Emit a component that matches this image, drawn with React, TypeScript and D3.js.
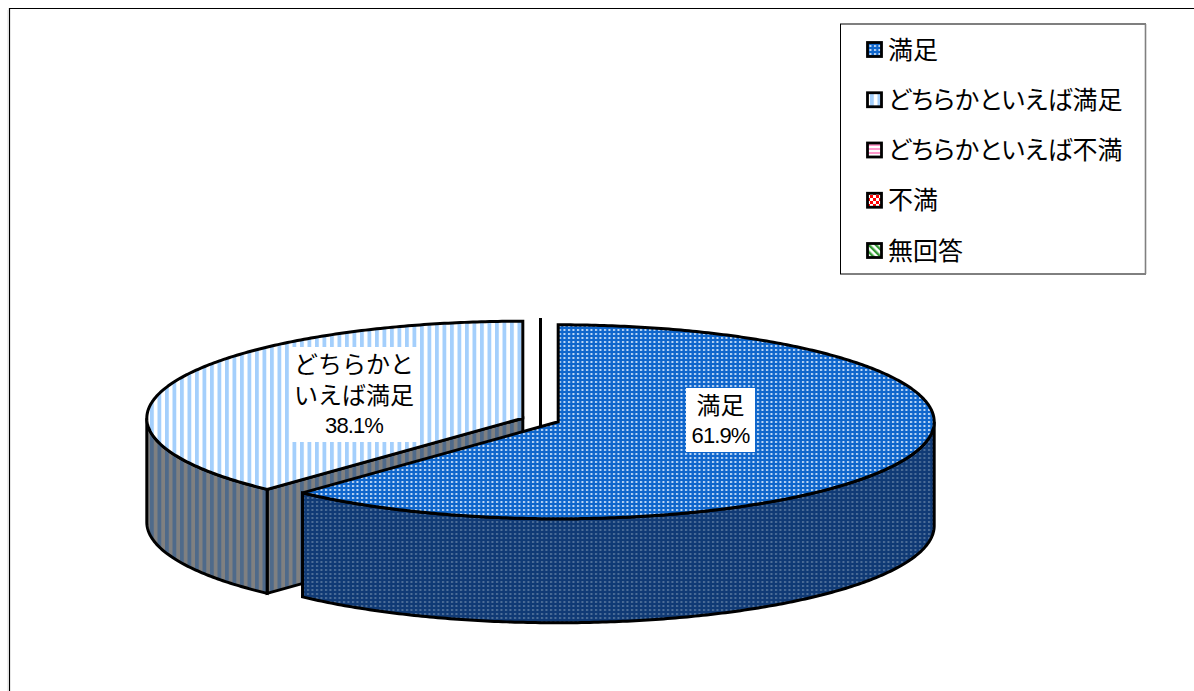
import React from "react";
import * as d3 from "d3";

// Survey answers and their shares (percent)
const categories = ["満足", "どちらかといえば満足", "どちらかといえば不満", "不満", "無回答"];
const shares = [61.9, 38.1, 0, 0, 0];
const sliceLabels = [["満足"], ["どちらかと", "いえば満足"]];
const swatchFills = ["topBlue", "topSky", "pinkBars", "redChecks", "greenDiag"];

const JP = "'Noto Sans CJK JP', sans-serif";
const LATIN = "'Liberation Sans', sans-serif";
const KANA_FIT = { fontFeatureSettings: "'palt'" };

const W = 1194;
const H = 691;
const pieX = 540.5;
const pieY = 420;
const rx = 376;
const ry = 97;
const depth = 104;
const explode = 19;
const edgeWidth = 3;

type P = [number, number];

const pie = d3.pie<number>().sort(null).value((d) => d);
const arcs = pie(shares);
const line = d3.line<P>();
const rimX = d3.scaleLinear().domain([-1, 1]).range([-rx, rx]);
const rimY = d3.scaleLinear().domain([-1, 1]).range([-ry, ry]);

function rim(cx: number, cy: number, a: number): P {
  return [cx + rimX(Math.sin(a)), cy + rimY(-Math.cos(a))];
}

function rimPoints(cx: number, cy: number, a0: number, a1: number): P[] {
  const n = Math.max(2, Math.ceil(Math.abs(a1 - a0) * 90));
  return d3.range(n + 1).map((i) => rim(cx, cy, a0 + ((a1 - a0) * i) / n));
}

function sliceCentre(a0: number, a1: number): P {
  const mid = (a0 + a1) / 2;
  return [pieX + explode * Math.sin(mid), pieY - explode * (ry / rx) * Math.cos(mid)];
}

// Outer wall of a slice: only the part of the rim on the near half of the ellipse
function wallPath(cx: number, cy: number, a0: number, a1: number) {
  const lo = Math.max(a0, Math.PI / 2);
  const hi = Math.min(a1, (3 * Math.PI) / 2);
  if (hi <= lo) return null;
  const upper = rimPoints(cx, cy, lo, hi);
  const lower = upper.map(([x, y]) => [x, y + depth] as P).reverse();
  return line([...upper, ...lower]) + "Z";
}

function Pie3D() {
  const stroke = { stroke: "#000", strokeWidth: edgeWidth, strokeLinejoin: "miter" as const };
  // Empty slices first, then back to front
  const order = [2, 3, 4, 1, 0];
  return (
    <g>
      {order.map((i) => {
        const d = arcs[i];
        const [cx, cy] = sliceCentre(d.startAngle, d.endAngle);
        if (d.endAngle === d.startAngle) {
          const top = rim(cx, cy, d.startAngle);
          return <path key={i} d={line([top, [cx, cy + depth]])!} fill="none" {...stroke} />;
        }
        const side = i === 0 ? "url(#sideBlue)" : "url(#sideSky)";
        const top = i === 0 ? "url(#topBlue)" : "url(#topSky)";
        const first = rim(cx, cy, d.startAngle);
        // The second slice shows its cut face beside the first one
        const cut =
          i === 1
            ? line([[cx, cy], first, [first[0], first[1] + depth], [cx, cy + depth]])! + "Z"
            : null;
        const wall = wallPath(cx, cy, d.startAngle, d.endAngle);
        return (
          <g key={i}>
            {cut && <path d={cut} fill={side} {...stroke} />}
            {wall && <path d={wall} fill={side} {...stroke} />}
            <path
              d={line([[cx, cy], ...rimPoints(cx, cy, d.startAngle, d.endAngle)])! + "Z"}
              fill={top}
              {...stroke}
            />
          </g>
        );
      })}
    </g>
  );
}

function LabelBox({ i, x, top, w }: { i: number; x: number; top: number; w: number }) {
  const text = sliceLabels[i];
  const lineH = 31;
  const h = text.length * lineH + 33;
  return (
    <g>
      <rect x={x - w / 2} y={top} width={w} height={h} fill="#fff" />
      {text.map((t, k) => (
        <text
          key={k}
          x={x}
          y={top + 26 + k * lineH}
          textAnchor="middle"
          fontFamily={JP}
          fontSize={24}
          fill="#000"
        >
          {t}
        </text>
      ))}
      <text
        x={x}
        y={top + 25 + text.length * lineH - 1}
        textAnchor="middle"
        fontFamily={LATIN}
        fontSize={22}
        letterSpacing={-0.9}
        fill="#000"
      >
        {d3.format(".1f")(shares[i])}%
      </text>
    </g>
  );
}

export default function App() {
  const legendRows = d3.scalePoint<string>().domain(categories).range([49.5, 250.5]);
  return (
    <svg
      width={W}
      height={H}
      viewBox={`0 0 ${W} ${H}`}
      style={{ position: "absolute", left: 0, top: 0, display: "block", background: "#fff" }}
    >
      <defs>
        <pattern id="topBlue" width={4.5} height={4} patternUnits="userSpaceOnUse">
          <rect width={4.5} height={4} fill="#0f66cc" />
          <rect x={1} y={1} width={2} height={2} fill="#c4dcf6" />
        </pattern>
        <pattern id="sideBlue" width={4.5} height={4} patternUnits="userSpaceOnUse">
          <rect width={4.5} height={4} fill="#103a75" />
          <rect x={1} y={1} width={2} height={2} fill="#4f7099" />
        </pattern>
        <pattern id="topSky" width={7.5} height={8} patternUnits="userSpaceOnUse">
          <rect width={7.5} height={8} fill="#fff" />
          <rect width={3.8} height={8} fill="#a4cffc" />
        </pattern>
        <pattern id="sideSky" width={7.5} height={8} patternUnits="userSpaceOnUse">
          <rect width={7.5} height={8} fill="#808080" />
          <rect width={3.8} height={8} fill="#4f6a8a" />
        </pattern>
        <pattern id="pinkBars" width={4} height={4} patternUnits="userSpaceOnUse">
          <rect width={4} height={4} fill="#fff" />
          <rect width={4} height={2} fill="#ff99cc" />
        </pattern>
        <pattern id="redChecks" width={6} height={6} patternUnits="userSpaceOnUse">
          <rect width={6} height={6} fill="#f00" />
          <rect width={3} height={3} fill="#fff" />
          <rect x={3} y={3} width={3} height={3} fill="#fff" />
        </pattern>
        <pattern id="greenDiag" width={5} height={5} patternUnits="userSpaceOnUse" patternTransform="rotate(-45)">
          <rect width={5} height={5} fill="#fff" />
          <rect width={2.4} height={5} fill="#339933" />
        </pattern>
      </defs>

      <path d={`M9.5 ${H}V8.5H${W}`} fill="none" stroke="#000" strokeWidth={1.2} />
      <path d={`M8 ${H}V10`} fill="none" stroke="#ddd" strokeWidth={1} />

      <Pie3D />
      <LabelBox i={0} x={720.5} top={388} w={69} />
      <LabelBox i={1} x={354} top={347} w={128} />

      <rect x={840.5} y={24} width={305} height={250} fill="#fff" stroke="#000" strokeWidth={1} />
      <path d="M1145.5 24V274" stroke="#808080" strokeWidth={1.6} />
      {categories.map((c, i) => {
        const y = legendRows(c)!;
        return (
          <g key={c}>
            <rect
              x={867.5}
              y={y - 7}
              width={14}
              height={14}
              fill={`url(#${swatchFills[i]})`}
              stroke="#000"
              strokeWidth={2.8}
            />
            <text x={888} y={y + 9} fontFamily={JP} fontSize={25} style={KANA_FIT} fill="#000">
              {c}
            </text>
          </g>
        );
      })}
    </svg>
  );
}
